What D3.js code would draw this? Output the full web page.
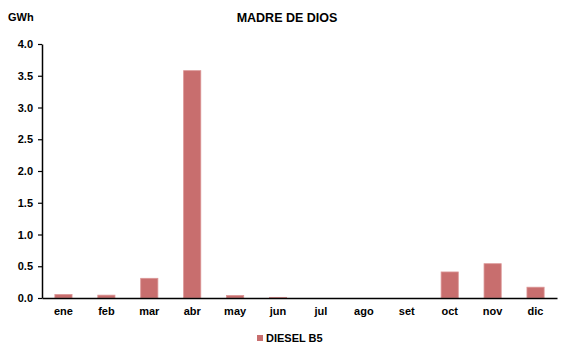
<!DOCTYPE html>
<html><head><meta charset="utf-8">
<script src="https://cdn.jsdelivr.net/npm/d3@7"></script>
<style>body{margin:0;background:#fff;}svg{display:block;font-family:"Liberation Sans",Arial,sans-serif;}</style>
</head><body>
<svg id="c" width="573" height="358"></svg>
<script>
const categories = ["ene","feb","mar","abr","may","jun","jul","ago","set","oct","nov","dic"];
const dieselB5 = [0.055,0.045,0.31,3.58,0.04,0.01,0,0,0,0.41,0.54,0.17];
const yTicks = [0,0.5,1.0,1.5,2.0,2.5,3.0,3.5,4.0];
const seriesName = "DIESEL B5";
const title = "MADRE DE DIOS";
const unit = "GWh";

const svg = d3.select("#c");
const m = {l:42, r:557, t:44, b:298};
const x = d3.scaleBand().domain(categories).range([m.l, m.r]).paddingInner(0.6).paddingOuter(0.3);
const y = d3.scaleLinear().domain([0,4]).range([m.b, m.t]);

svg.append("text").attr("x",287).attr("y",22).attr("text-anchor","middle")
  .attr("font-size",12.5).attr("font-weight","bold").text(title);
svg.append("text").attr("x",8).attr("y",21).attr("font-size",11).attr("font-weight","bold").text(unit);

svg.append("g").selectAll("rect").data(dieselB5).join("rect")
  .attr("x",(d,i)=>x(categories[i])).attr("width",x.bandwidth())
  .attr("y",d=>y(d)).attr("height",d=>y(0)-y(d))
  .attr("fill","#C86E6E").attr("stroke","#DB9595").attr("stroke-width",0.8);

const ya = svg.append("g").attr("transform",`translate(${m.l},0)`)
  .call(d3.axisLeft(y).tickValues(yTicks).tickFormat(d3.format(".1f")).tickSize(4).tickSizeOuter(0));
ya.select(".domain").attr("stroke","#000").attr("stroke-width",1.5);
ya.selectAll(".tick line").attr("stroke","#000").attr("stroke-width",1.2);
ya.selectAll("text").attr("font-size",11).attr("font-weight","bold").attr("fill","#000").attr("x",-9)
  .attr("font-family","Liberation Sans, Arial, sans-serif");

const xa = svg.append("g").attr("transform",`translate(0,${m.b})`)
  .call(d3.axisBottom(x).tickSize(0).tickSizeOuter(0));
xa.select(".domain").attr("stroke","#000").attr("stroke-width",1.5);
xa.selectAll("text").attr("font-size",11).attr("font-weight","bold").attr("fill","#000").attr("dy","1.3em")
  .attr("font-family","Liberation Sans, Arial, sans-serif");

const lg = svg.append("g");
lg.append("rect").attr("x",257).attr("y",335).attr("width",6).attr("height",6).attr("fill","#C86E6E");
lg.append("text").attr("x",266).attr("y",342).attr("font-size",11).attr("font-weight","bold").text(seriesName);
</script>
</body></html>
